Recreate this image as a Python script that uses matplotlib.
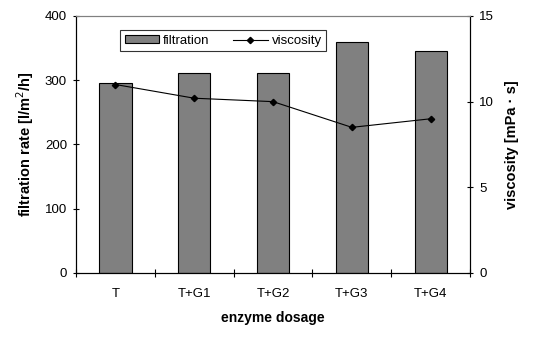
import matplotlib
matplotlib.use("Agg")
import matplotlib.pyplot as plt
import numpy as np

plt.rcParams["font.family"] = ["Liberation Sans", "DejaVu Sans"]
plt.rcParams["font.size"] = 9.5

dosage = ["T", "T+G1", "T+G2", "T+G3", "T+G4"]
filtration = [296, 312, 312, 360, 345]
viscosity = [11.0, 10.2, 10.0, 8.5, 9.0]

x = np.arange(len(dosage))

fig = plt.figure(figsize=(5.36, 3.42), dpi=100)
ax = fig.add_axes([0.1418, 0.2018, 0.7352, 0.7515])
ax2 = ax.twinx()

b = ax.bar(x, filtration, width=0.41, color="#808080", edgecolor="black", linewidth=0.8, label="filtration")
l, = ax2.plot(x, viscosity, color="black", linewidth=0.8, marker="D", markersize=3.2, label="viscosity")

ax.set_xlim(-0.5, len(dosage) - 0.5)
ax.set_ylim(0, 400)
ax.set_yticks([0, 100, 200, 300, 400])
ax2.set_ylim(0, 15)
ax2.set_yticks([0, 5, 10, 15])

ax.set_xticks(x)
ax.set_xticklabels(dosage)
ax.set_xticks(np.arange(-0.5, len(dosage)), minor=True)
ax.tick_params(axis="x", which="major", length=0, pad=11)
ax.tick_params(axis="x", which="minor", length=6, direction="inout", width=0.8)
ax.tick_params(axis="y", length=5, direction="inout", width=0.8, pad=4)
ax2.tick_params(axis="y", length=5, direction="inout", width=0.8, pad=4)

for a in (ax, ax2):
    a.spines["top"].set_color("#808080")
    a.spines["top"].set_linewidth(0.8)
    a.spines["left"].set_linewidth(0.8)
    a.spines["right"].set_linewidth(0.8)
    a.spines["bottom"].set_linewidth(0.8)

ax.set_xlabel("enzyme dosage", fontweight="bold", fontsize=10, labelpad=8)
ax.set_ylabel("filtration rate [l/m$^2$/h]", fontweight="bold", fontsize=10.5, labelpad=6)
ax2.set_ylabel("viscosity [mPa · s]", fontweight="bold", fontsize=10.5, rotation=90, labelpad=8)

leg = ax.legend([b, l], ["filtration", "viscosity"], loc="upper left", bbox_to_anchor=(0.112, 0.945),
                borderaxespad=0, ncol=2, frameon=True, fancybox=False, edgecolor="black",
                handlelength=2.6, handleheight=0.5, columnspacing=1.8, borderpad=0.35,
                handletextpad=0.3)
leg.get_frame().set_linewidth(0.8)

fig.savefig("out.png", dpi=100)
